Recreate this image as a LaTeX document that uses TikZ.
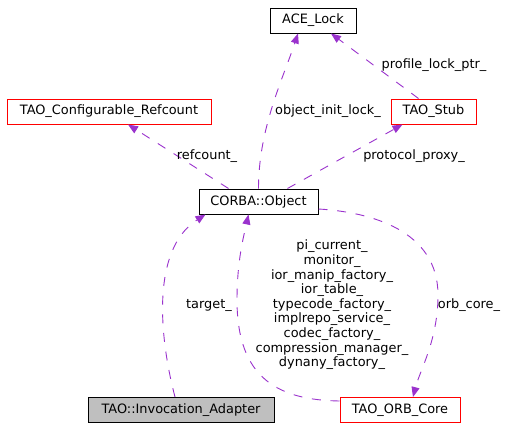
\documentclass[tikz,border=0pt]{standalone}
\usepackage{fontspec}
\setmainfont{DejaVu Sans}
\usetikzlibrary{arrows.meta}
\definecolor{edgepurple}{HTML}{9A32CD}
\tikzstyle{cls} = [draw, line width=1pt, minimum height=25pt, inner sep=0pt, font=\fontsize{12.9}{14.6}\selectfont]
\tikzstyle{trunc} = [cls, draw=red]
\tikzstyle{self} = [cls, fill=gray!50]
\tikzstyle{use} = [draw=edgepurple, line width=0.9pt, dash pattern=on 9pt off 9.7pt, -{Triangle[length=10pt,width=8pt,fill=edgepurple]}]
\tikzstyle{lbl} = [font=\fontsize{12.9}{14.6}\selectfont, align=center, inner sep=0pt]

\begin{document}
\begin{tikzpicture}[x=1pt,y=1pt]
			\useasboundingbox[fill=white] (0,0) rectangle (515,-429);
			% classes
			\node[cls, minimum width=86pt] (acelock) at (313,-20.5) {ACE\_Lock};
			\node[trunc, minimum width=204pt] (refcount) at (109,-111.5) {TAO\_Configurable\_Refcount};
			\node[trunc, minimum width=85pt] (stub) at (433.5,-111.5) {TAO\_Stub};
			\node[cls, minimum width=119pt] (obj) at (258.5,-201.5) {CORBA::Object};
			\node[self, minimum width=186pt] (invoc) at (181,-410) {TAO::Invocation\_Adapter};
			\node[trunc, minimum width=120pt] (orbcore) at (400,-410) {TAO\_ORB\_Core};
			% usage relations
			\draw[use] (obj.north) .. controls +(0,60) and +(-15,-45) .. ([xshift=-15pt]acelock.south);
			\node[lbl] (lockl) at (328,-111) {object\_init\_lock\_};
			\draw[use] ([xshift=-15pt]stub.north) -- ([xshift=18pt]acelock.south);
			\node[lbl] (profl) at (434,-65) {profile\_lock\_ptr\_};
			\draw[use] ([xshift=-30pt]obj.north) -- ([xshift=19pt]refcount.south);
			\node[lbl] (refl) at (207,-156) {refcount\_};
			\draw[use] ([xshift=29pt]obj.north) -- ([xshift=-31pt]stub.south);
			\node[lbl] (protl) at (414,-156) {protocol\_proxy\_};
			\draw[use] ([xshift=-6pt]invoc.north) .. controls (160,-340) and (150,-250) .. ([xshift=-53pt]obj.south);
			\node[lbl] (targl) at (209,-305) {target\_};
			\draw[use] ([yshift=9pt]orbcore.west) .. controls (280,-400) and (237,-380) .. (237,-300)
				.. controls (237,-260) and (244,-235) .. ([xshift=-10pt]obj.south);
			\node[lbl] (corel) at (332,-305) {pi\_current\_\\monitor\_\\ior\_manip\_factory\_\\ior\_table\_\\typecode\_factory\_\\implrepo\_service\_\\codec\_factory\_\\compression\_manager\_\\dynany\_factory\_};
			\draw[use] ([yshift=-7.5pt]obj.east) .. controls (370,-212) and (438,-230) .. (438,-295)
				.. controls (438,-340) and (420,-370) .. ([xshift=13pt]orbcore.north);
			\node[lbl] (orbl) at (469,-305) {orb\_core\_};
		\end{tikzpicture}
\end{document}
